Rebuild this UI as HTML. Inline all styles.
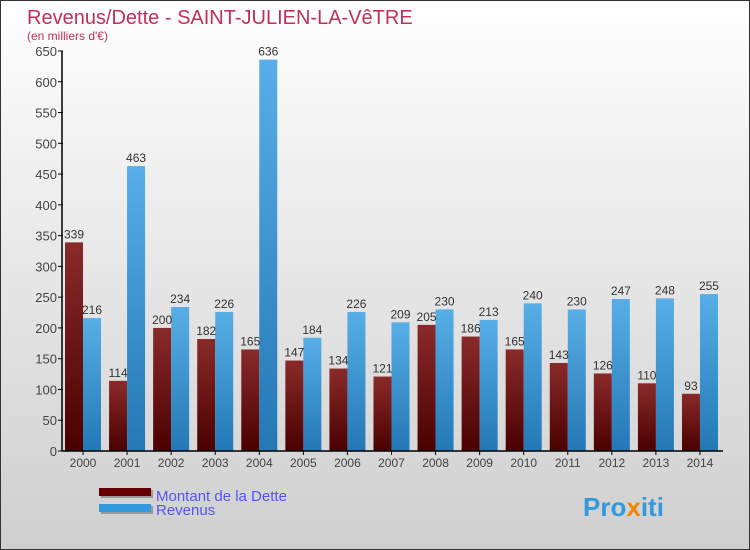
<!DOCTYPE html>
<html><head><meta charset="utf-8"><style>
body{margin:0}
#wrap{width:750px;height:550px;position:relative;overflow:hidden;background:linear-gradient(#ffffff,#f0f0f0 30%,#cfcfcf);font-family:"Liberation Sans",sans-serif;box-sizing:border-box;border:1px solid #333}
</style></head><body>
<div id="wrap">
<svg id="svg" width="750" height="550">
<defs>
<linearGradient id="gd" x1="0" y1="0" x2="0" y2="1"><stop offset="0" stop-color="#8a2a2a"/><stop offset="1" stop-color="#4a0000"/></linearGradient>
<linearGradient id="gr" x1="0" y1="0" x2="0" y2="1"><stop offset="0" stop-color="#58aee6"/><stop offset="1" stop-color="#2378b5"/></linearGradient>
</defs>
<text x="26" y="23" font-size="20" fill="#c0305a">Revenus/Dette - SAINT-JULIEN-LA-VêTRE</text>
<text x="26" y="39" font-size="12" fill="#c0305a">(en milliers d'€)</text>
<g id="plot"></g>
<rect x="100" y="489" width="52" height="8" fill="#999"/>
<rect x="98" y="487" width="52" height="8" fill="#660000"/>
<text x="155" y="500" font-size="15" fill="#5555ee">Montant de la Dette</text>
<rect x="100" y="505" width="52" height="8" fill="#999"/>
<rect x="98" y="503" width="52" height="8" fill="#3399dd"/>
<text x="155" y="514" font-size="15" fill="#5555ee">Revenus</text>
<text x="582" y="515" font-size="26" font-weight="bold" fill="#3399dd">Pro<tspan fill="#ee8800">x</tspan>iti</text>
</svg>
</div>
<script>
const years=["2000","2001","2002","2003","2004","2005","2006","2007","2008","2009","2010","2011","2012","2013","2014"];
const dette=[339,114,200,182,165,147,134,121,205,186,165,143,126,110,93];
const revenus=[216,463,234,226,636,184,226,209,230,213,240,230,247,248,255];
const yTicks=[0,50,100,150,200,250,300,350,400,450,500,550,600,650];
const NS="http://www.w3.org/2000/svg";
const g=document.getElementById('plot');
const y0=450,yTop=50,yMax=650;
function y(v){return y0-v/yMax*(y0-yTop);}
function x(i){return 82+i*44.07;}
function el(t,a){const e=document.createElementNS(NS,t);for(const k in a)e.setAttribute(k,a[k]);g.appendChild(e);return e;}
yTicks.forEach(v=>{
 const l=el('line',{x1:57,x2:62,y1:y(v),y2:y(v),stroke:'#000'});
 
 
 const t=el('text',{x:56,y:y(v)+5,'font-size':13,'text-anchor':'end',fill:'#444'});
 t.textContent=v;
 
 
});
years.forEach((yr,i)=>{
 const cx=x(i);
 const bd=el('rect',{x:cx-18,y:y(dette[i]),width:18,height:y0-y(dette[i]),fill:'url(#gd)'});
 
 
 const br=el('rect',{x:cx,y:y(revenus[i]),width:18,height:y0-y(revenus[i]),fill:'url(#gr)'});
 
 
 const td=el('text',{x:cx-9,y:y(dette[i])-4,'font-size':12,'text-anchor':'middle',fill:'#333'});
 td.textContent=dette[i];
 
 
 const tr=el('text',{x:cx+9,y:y(revenus[i])-4,'font-size':12,'text-anchor':'middle',fill:'#333'});
 tr.textContent=revenus[i];
 
 
 const tk=el('line',{x1:cx,x2:cx,y1:y0,y2:y0+4,stroke:'#000'});
 
 
 const xl=el('text',{x:cx,y:y0+16,'font-size':12,'text-anchor':'middle',fill:'#444'});
 xl.textContent=yr;
 
 
});
const ya=el('line',{x1:61,x2:61,y1:yTop,y2:y0,stroke:'#000','stroke-width':1.5});


const xa=el('line',{x1:61,x2:722,y1:y0,y2:y0,stroke:'#000','stroke-width':1.5});


</script>
</body></html>
